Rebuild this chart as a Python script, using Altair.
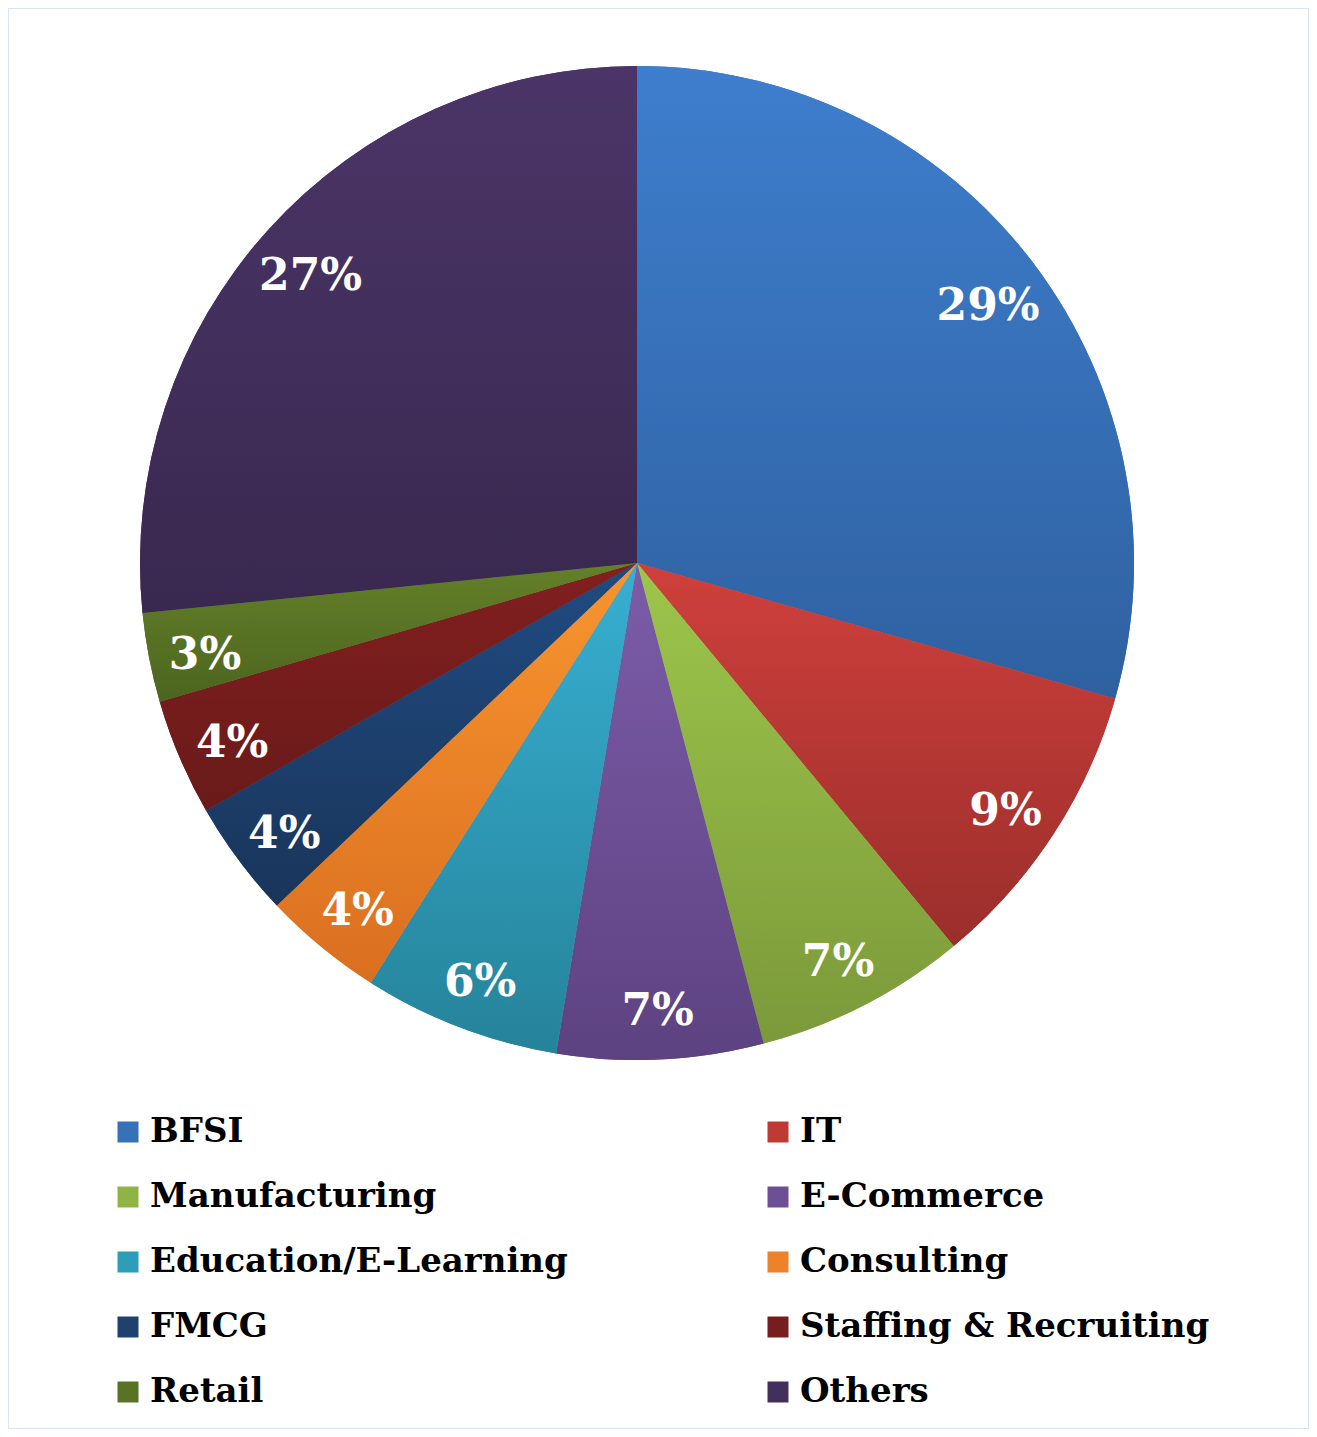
import altair as alt
import pandas as pd

categories = ["BFSI", "IT", "Manufacturing", "E-Commerce", "Education/E-Learning",
              "Consulting", "FMCG", "Staffing & Recruiting", "Retail", "Others"]
values = [29.4, 9.6, 6.9, 6.7, 6.4, 3.9, 3.8, 3.8, 2.9, 26.6]
labels = ["29%", "9%", "7%", "7%", "6%", "4%", "4%", "4%", "3%", "27%"]
top_colors = ["#3E7ECD", "#CF403C", "#9DC64B", "#7C5CA9", "#38AFD1",
              "#F8952F", "#204B81", "#821F1F", "#648029", "#4B3568"]
bottom_colors = ["#2F61A1", "#9A2E2B", "#7B993A", "#5D4281", "#25839A",
                 "#DA6F20", "#19355A", "#6A1A1A", "#4C651F", "#39284F"]
mid_colors = ["#3771B8", "#C03A35", "#8FB443", "#6D4F96", "#2F9CB8",
              "#EC8328", "#1E416E", "#771D1D", "#597325", "#42305C"]

# legend fills column by column: left column then right column
legend_order = categories[0::2] + categories[1::2]
legend_colors = [mid_colors[categories.index(c)] for c in legend_order]

df = pd.DataFrame({"cat": categories, "val": values, "label": labels,
                   "order": list(range(len(categories)))})

CX, CY, R = 629, 555, 497
theta_scale = alt.Scale(domain=[0, 100])

base = alt.Chart(df).transform_window(
    end="sum(val)", sort=[alt.SortField("order")], frame=[None, 0]
).transform_calculate(
    start="datum.end - datum.val", mid="datum.end - datum.val / 2"
)

legend = alt.Legend(
    orient="none", legendX=103, legendY=1107, columns=2, title=None,
    symbolType="square", symbolSize=441, symbolStrokeWidth=0, symbolOpacity=1,
    labelFont="DejaVu Serif", labelFontSize=34, labelFontWeight="bold",
    labelColor="#000000", labelOffset=5, labelLimit=0,
    columnPadding=193, rowPadding=31, padding=0,
)

solid = base.mark_arc(radius=R, stroke=None).encode(
    x=alt.value(CX), y=alt.value(CY),
    theta=alt.Theta("start:Q", scale=theta_scale),
    theta2="end:Q",
    color=alt.Color("cat:N", scale=alt.Scale(domain=legend_order, range=legend_colors),
                    sort=legend_order, legend=legend),
)

layers = [solid]
for c, t, b in zip(categories, top_colors, bottom_colors):
    grad = alt.Gradient(gradient="linear", x1=0, y1=0, x2=0, y2=1,
                        stops=[alt.GradientStop(offset=0, color=t),
                               alt.GradientStop(offset=1, color=b)])
    layers.append(
        base.transform_filter(alt.datum.cat == c).mark_arc(radius=R, fill=grad).encode(
            x=alt.value(CX), y=alt.value(CY),
            theta=alt.Theta("start:Q", scale=theta_scale),
            theta2="end:Q",
        )
    )

text = base.mark_text(radius=440, dy=9, font="DejaVu Serif", fontSize=44, fontWeight="bold",
                      color="white", align="center", baseline="middle").encode(
    x=alt.value(CX), y=alt.value(CY),
    theta=alt.Theta("mid:Q", scale=theta_scale),
    text="label:N",
)
layers.append(text)

chart = alt.layer(*layers).properties(
    width=1301, height=1421, autosize=alt.AutoSizeParams(type="none"), padding=0
).configure_view(stroke="#DAE5F3", strokeWidth=2)

chart.save("out.html", embed_options={"renderer": "svg", "actions": False})
